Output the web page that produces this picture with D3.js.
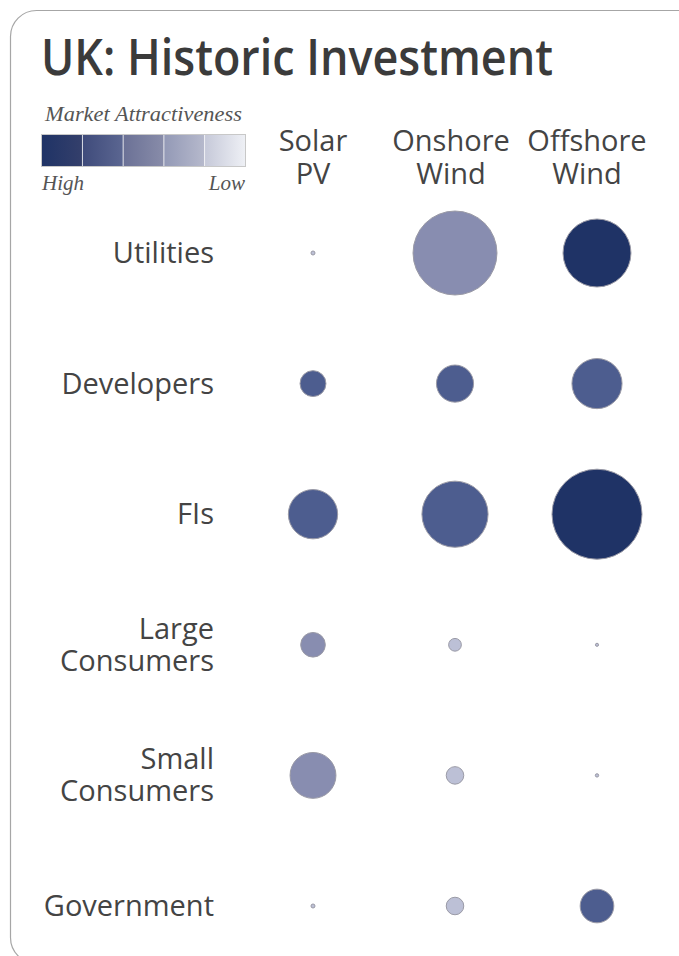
<!DOCTYPE html>
<html><head><meta charset="utf-8">
<script src="https://cdn.jsdelivr.net/npm/d3@7"></script>
<style>html,body{margin:0;padding:0;background:#fff;}svg{display:block;}</style>
</head><body>
<script>
const title = "UK: Historic Investment";
const technologies = ["Solar\nPV", "Onshore\nWind", "Offshore\nWind"];
const investors = ["Utilities", "Developers", "FIs", "Large\nConsumers", "Small\nConsumers", "Government"];
// investment volume (relative units), rows = investors, cols = technologies
const solarPV   = [0.2, 8.3, 30, 7.5, 26, 0.2];
const onshore   = [87, 17, 54, 2.0, 3.8, 3.8];
const offshore  = [57, 31, 100, 0.12, 0.14, 14];
// market attractiveness level (1 = high ... 5 = low)
const solarLvl    = [4, 2, 2, 3, 3, 4];
const onshoreLvl  = [3, 2, 2, 4, 4, 4];
const offshoreLvl = [1, 2, 1, 4, 4, 2];
const legendTitle = "Market Attractiveness";
const legendLabels = ["High", "Low"];

const W = 679, H = 956;
const levelColor = ["#1f3366", "#4d5d8f", "#888db0", "#bcc0d6", "#e4e6ef"];
const gradStops = [["#1f3366","#343f6b"],["#3f4b7b","#5b6691"],["#6b7196","#888ca9"],["#9399b6","#b6b9cc"],["#c6c9d9","#eef0f5"]];

const svg = d3.select("body").append("svg").attr("width", W).attr("height", H);

svg.append("rect").attr("x", 10.5).attr("y", 10.5).attr("width", 695).attr("height", 953)
  .attr("rx", 26).attr("fill", "#fff").attr("stroke", "#a6a6a6").attr("stroke-width", 1.2);

svg.append("text").attr("x", 41).attr("y", 75).text(title)
  .attr("font-family", "'Open Sans','Noto Sans',sans-serif")
  .attr("font-size", 50).attr("fill", "#3b3b3b").attr("font-weight", 600)
  .attr("textLength", 512).attr("lengthAdjust", "spacingAndGlyphs");

// legend
const defs = svg.append("defs");
gradStops.forEach((s, i) => {
  const g = defs.append("linearGradient").attr("id", "lg" + i);
  g.append("stop").attr("offset", "0%").attr("stop-color", s[0]);
  g.append("stop").attr("offset", "100%").attr("stop-color", s[1]);
});
const lx = d3.scaleBand().domain(d3.range(5)).range([42, 245]).paddingInner(0.02);
svg.append("rect").attr("x", 41.5).attr("y", 134.5).attr("width", 204).attr("height", 32).attr("fill", "#fff").attr("stroke", "#c8c8c8");
svg.selectAll(".lg").data(d3.range(5)).join("rect")
  .attr("x", d => lx(d)).attr("y", 135).attr("width", lx.bandwidth()).attr("height", 31)
  .attr("fill", d => `url(#lg${d})`);
const serif = "'Liberation Serif','DejaVu Serif',serif";
svg.append("text").attr("x", 45).attr("y", 121).text(legendTitle)
  .attr("font-family", serif).attr("font-style", "italic").attr("font-size", 21).attr("fill", "#555")
  .attr("textLength", 197).attr("lengthAdjust", "spacingAndGlyphs");
svg.append("text").attr("x", 42).attr("y", 190).text(legendLabels[0])
  .attr("font-family", serif).attr("font-style", "italic").attr("font-size", 21).attr("fill", "#555");
svg.append("text").attr("x", 245).attr("y", 190).attr("text-anchor", "end").text(legendLabels[1])
  .attr("font-family", serif).attr("font-style", "italic").attr("font-size", 21).attr("fill", "#555");

const sans = "'Open Sans','Noto Sans',sans-serif";
const x = d3.scalePoint().domain(technologies).range([313, 597]);
const y = d3.scalePoint().domain(investors).range([253, 906]);
const r = d3.scaleSqrt().domain([0, 100]).range([0, 45]);

// column headers
const headerX = [313, 451, 587];
technologies.forEach((t, i) => {
  t.split("\n").forEach((l, j) => svg.append("text").attr("text-anchor", "middle").attr("font-family", sans)
    .attr("font-size", 29).attr("fill", "#444").attr("x", headerX[i]).attr("y", 151 + j * 33).text(l));
});

// row labels
investors.forEach(inv => {
  const lines = inv.split("\n");
  const cy = y(inv);
  const off = lines.length === 1 ? 10 : -6;
  lines.forEach((l, j) => svg.append("text").attr("text-anchor", "end").attr("font-family", sans)
    .attr("font-size", 29).attr("fill", "#444").attr("x", 214).attr("y", cy + off + j * 32).text(l));
});

const series = [solarPV, onshore, offshore];
const levels = [solarLvl, onshoreLvl, offshoreLvl];
const cells = [];
investors.forEach((inv, i) => technologies.forEach((t, j) => {
  cells.push({inv, t, v: series[j][i], lvl: levels[j][i]});
}));
svg.selectAll(".bub").data(cells).join("circle")
  .attr("cx", d => x(d.t)).attr("cy", d => y(d.inv)).attr("r", d => Math.max(r(d.v), 1.5))
  .attr("fill", d => levelColor[d.lvl - 1]).attr("stroke", "#9a9aa6").attr("stroke-width", 1);
</script>
</body></html>
